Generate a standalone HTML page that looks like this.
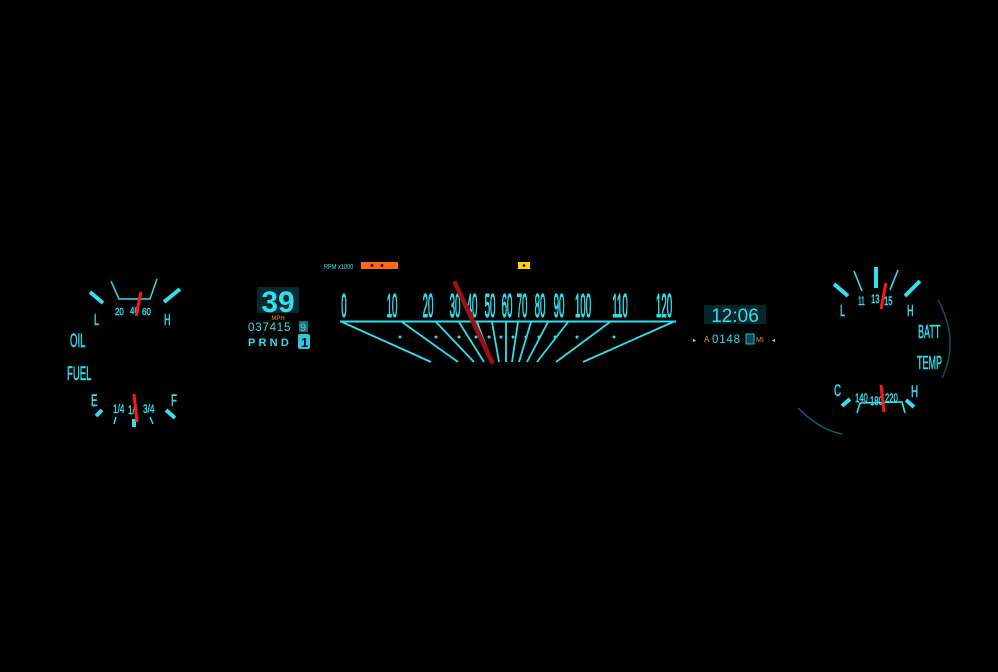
<!DOCTYPE html>
<html><head><style>
html,body{margin:0;padding:0;background:#000;width:998px;height:672px;overflow:hidden}
text{font-family:"Liberation Sans",sans-serif;fill:#2fe0ee}
.b{stroke:#2fe0ee;stroke-width:0.7}
</style></head><body>
<svg width="998" height="672" viewBox="0 0 998 672" xmlns="http://www.w3.org/2000/svg">
<rect width="998" height="672" fill="#000"/>
<!-- RPM -->
<text x="324" y="269" font-size="7" transform="translate(324 269) scale(0.8 1) translate(-324 -269)">RPM x1000</text>
<rect x="361" y="262" width="37" height="7" fill="#ff6a10"/>
<circle cx="372" cy="265.5" r="1.5" fill="#300"/><circle cx="382" cy="265.5" r="1.5" fill="#300"/>
<rect x="518" y="262" width="12" height="7" fill="#ffd000"/><circle cx="524" cy="265.5" r="1.3" fill="#000"/>
<!-- speedo numbers -->
<g font-size="15" text-anchor="middle" class="b" style="stroke-width:0.5">
<text transform="translate(344 317) scale(0.65 2.2)">0</text>
<text transform="translate(392 317) scale(0.65 2.2)">10</text>
<text transform="translate(428 317) scale(0.65 2.2)">20</text>
<text transform="translate(455 317) scale(0.65 2.2)">30</text>
<text transform="translate(472 317) scale(0.65 2.2)">40</text>
<text transform="translate(490 317) scale(0.65 2.2)">50</text>
<text transform="translate(507 317) scale(0.65 2.2)">60</text>
<text transform="translate(522 317) scale(0.65 2.2)">70</text>
<text transform="translate(540 317) scale(0.65 2.2)">80</text>
<text transform="translate(559 317) scale(0.65 2.2)">90</text>
<text transform="translate(583 317) scale(0.65 2.2)">100</text>
<text transform="translate(620 317) scale(0.65 2.2)">110</text>
<text transform="translate(664 317) scale(0.65 2.2)">120</text>
</g>
<line x1="340" y1="321.5" x2="676" y2="321.5" stroke="#2fe0ee" stroke-width="2"/>
<g stroke="#2fe0ee" stroke-width="1.8">
<line x1="342" y1="322" x2="431" y2="362"/>
<line x1="402" y1="322" x2="458" y2="362"/>
<line x1="436" y1="322" x2="474" y2="362"/>
<line x1="459" y1="322" x2="484" y2="362"/>
<line x1="477" y1="322" x2="492" y2="362"/>
<line x1="492" y1="322" x2="499" y2="362"/>
<line x1="506" y1="322" x2="506" y2="362"/>
<line x1="518" y1="322" x2="512" y2="362"/>
<line x1="531" y1="322" x2="519" y2="362"/>
<line x1="548" y1="322" x2="527" y2="362"/>
<line x1="568" y1="322" x2="537" y2="362"/>
<line x1="610" y1="322" x2="556" y2="362"/>
<line x1="673" y1="322" x2="583" y2="362"/>
</g>
<g fill="#2fe0ee">
<circle cx="400" cy="337" r="1.5"/><circle cx="436" cy="337" r="1.5"/><circle cx="459" cy="337" r="1.5"/><circle cx="476" cy="337" r="1.5"/><circle cx="489" cy="337" r="1.5"/><circle cx="501" cy="337" r="1.5"/><circle cx="513" cy="337" r="1.5"/><circle cx="526" cy="337" r="1.5"/><circle cx="539" cy="337" r="1.5"/><circle cx="555" cy="337" r="1.5"/><circle cx="577" cy="337" r="1.5"/><circle cx="614" cy="337" r="1.5"/>
</g>
<line x1="455" y1="283" x2="492" y2="362" stroke="#a01010" stroke-width="4.5" stroke-linecap="round"/>
<!-- digital speed -->
<rect x="257" y="287" width="42" height="26" fill="#062a30"/>
<text x="278" y="312" font-size="30" text-anchor="middle" font-weight="bold">39</text>
<text x="278" y="320" font-size="6" text-anchor="middle" style="fill:#e89a20">MPH</text>
<text x="248" y="331" font-size="11.5" letter-spacing="0.8">037415</text>
<rect x="299" y="321" width="9" height="11" fill="#1a6d75"/><text x="300" y="331" font-size="11">9</text>
<text x="248" y="346" font-size="11" font-weight="bold" letter-spacing="3.2">PRND</text>
<rect x="298" y="334" width="12" height="15" rx="2" fill="#2fc8d8"/><text x="301" y="347" font-size="13" font-weight="bold" style="fill:#003">1</text>
<!-- clock -->
<rect x="704" y="305" width="62" height="19" fill="#06262b"/>
<text x="735" y="322" font-size="19" text-anchor="middle">12:06</text>
<text x="693" y="342" font-size="6" style="fill:#ccc">▸</text>
<text x="704" y="342" font-size="8" style="fill:#e89a20">A</text>
<text x="712" y="343" font-size="11.5" letter-spacing="0.8">0148</text>
<rect x="746" y="334" width="8" height="10" fill="#0b4b52" stroke="#2fe0ee" stroke-width="0.8"/>
<text x="756" y="342" font-size="7" style="fill:#e89a20">MI</text>
<text x="772" y="342" font-size="6" style="fill:#ccc">◂</text>
<!-- left gauge -->
<g stroke="#2fe0ee" stroke-width="4">
<line x1="90" y1="292" x2="103" y2="303"/>
<line x1="180" y1="289" x2="164" y2="302"/>
<line x1="96" y1="416" x2="102" y2="410"/>
<line x1="175" y1="418" x2="166" y2="410"/>
</g>
<polyline points="111,281 119,299 150,299 157,279" fill="none" stroke="#2fe0ee" stroke-width="1.5"/>
<g stroke="#2fe0ee" stroke-width="1.5">
<line x1="116" y1="417" x2="114" y2="424"/><line x1="150" y1="417" x2="153" y2="424"/>
</g>
<rect x="132" y="419" width="4" height="8" fill="#2fe0ee"/>
<g class="b" style="stroke-width:0.4">
<text x="115" y="315" font-size="10" transform="translate(115 315) scale(0.8 1) translate(-115 -315)">20</text>
<text x="130" y="314" font-size="10" transform="translate(130 314) scale(0.8 1) translate(-130 -314)">40</text>
<text x="142" y="315" font-size="10" transform="translate(142 315) scale(0.8 1) translate(-142 -315)">60</text>
<text x="94" y="325" font-size="13" transform="translate(94 325) scale(0.7 1.2) translate(-94 -325)">L</text>
<text x="164" y="325" font-size="13" transform="translate(164 325) scale(0.7 1.2) translate(-164 -325)">H</text>
<text x="70" y="347" font-size="16" transform="translate(70 347) scale(0.6 1.2) translate(-70 -347)">OIL</text>
<text x="67" y="380" font-size="16" transform="translate(67 380) scale(0.6 1.2) translate(-67 -380)">FUEL</text>
<text x="91" y="406" font-size="14" transform="translate(91 406) scale(0.7 1.2) translate(-91 -406)">E</text>
<text x="171" y="406" font-size="14" transform="translate(171 406) scale(0.7 1.2) translate(-171 -406)">F</text>
<text x="113" y="413" font-size="11" transform="translate(113 413) scale(0.75 1.1) translate(-113 -413)">1/4</text>
<text x="128" y="414" font-size="11" transform="translate(128 414) scale(0.75 1.1) translate(-128 -414)">1/</text>
<text x="143" y="413" font-size="11" transform="translate(143 413) scale(0.75 1.1) translate(-143 -413)">3/4</text>
</g>
<line x1="141" y1="292" x2="136" y2="316" stroke="#ff1a10" stroke-width="3"/>
<line x1="134" y1="394" x2="137" y2="422" stroke="#ff1a10" stroke-width="3"/>
<!-- right gauge -->
<path d="M798 408 Q820 430 842 434" fill="none" stroke="#0c6070" stroke-width="1.5"/>
<path d="M938 300 Q960 340 942 378" fill="none" stroke="#0c5060" stroke-width="1.5"/>
<g stroke="#2fe0ee" stroke-width="4">
<line x1="834" y1="284" x2="848" y2="296"/>
<line x1="876" y1="267" x2="876" y2="288"/>
<line x1="920" y1="281" x2="905" y2="296"/>
<line x1="842" y1="406" x2="850" y2="399"/>
<line x1="914" y1="407" x2="906" y2="400"/>
</g>
<g stroke="#2fe0ee" stroke-width="1.6">
<line x1="854" y1="271" x2="862" y2="291"/><line x1="898" y1="270" x2="890" y2="290"/>
</g>
<path d="M857 413 L860 403 L902 402 L905 413" fill="none" stroke="#2fe0ee" stroke-width="1.6"/>
<g class="b" style="stroke-width:0.4">
<text x="858" y="305" font-size="11" transform="translate(858 305) scale(0.6 1.1) translate(-858 -305)">11</text>
<text x="871" y="303" font-size="11" transform="translate(871 303) scale(0.7 1.1) translate(-871 -303)">13</text>
<text x="884" y="305" font-size="11" transform="translate(884 305) scale(0.7 1.1) translate(-884 -305)">15</text>
<text x="840" y="316" font-size="13" transform="translate(840 316) scale(0.7 1.2) translate(-840 -316)">L</text>
<text x="907" y="316" font-size="13" transform="translate(907 316) scale(0.7 1.2) translate(-907 -316)">H</text>
<text x="918" y="338" font-size="15" transform="translate(918 338) scale(0.6 1.2) translate(-918 -338)">BATT</text>
<text x="917" y="369" font-size="15" transform="translate(917 369) scale(0.6 1.2) translate(-917 -369)">TEMP</text>
<text x="834" y="396" font-size="14" transform="translate(834 396) scale(0.7 1.2) translate(-834 -396)">C</text>
<text x="911" y="397" font-size="14" transform="translate(911 397) scale(0.7 1.2) translate(-911 -397)">H</text>
<text x="855" y="402" font-size="11" transform="translate(855 402) scale(0.7 1.1) translate(-855 -402)">140</text>
<text x="870" y="405" font-size="11" transform="translate(870 405) scale(0.7 1.1) translate(-870 -405)">180</text>
<text x="885" y="402" font-size="11" transform="translate(885 402) scale(0.7 1.1) translate(-885 -402)">220</text>
</g>
<line x1="886" y1="283" x2="881" y2="309" stroke="#ff1a10" stroke-width="3"/>
<line x1="881" y1="385" x2="884" y2="412" stroke="#ff1a10" stroke-width="3"/>
</svg>
</body></html>
